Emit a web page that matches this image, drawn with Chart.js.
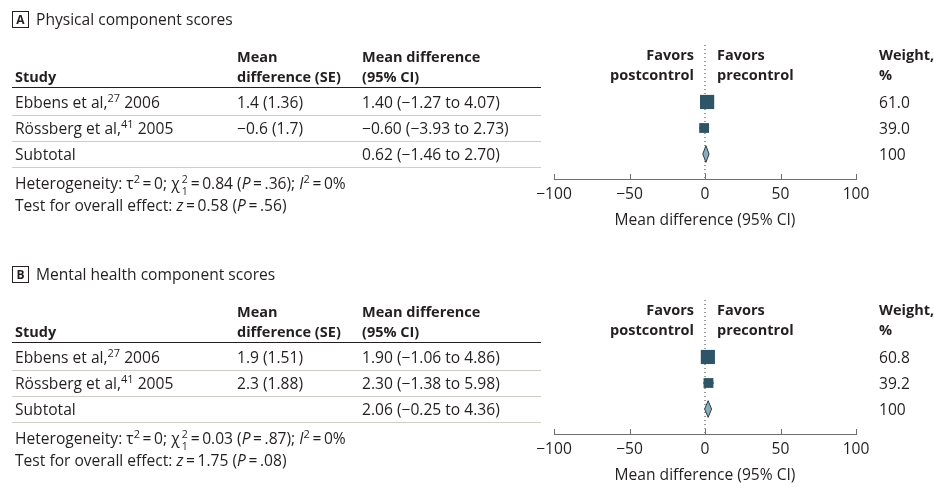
<!DOCTYPE html>
<html>
<head>
<meta charset="utf-8">
<script src="https://cdn.jsdelivr.net/npm/chart.js@4.4.1/dist/chart.umd.min.js"></script>
<style>
body { margin: 0; background: #fff; font-family: "Open Sans", sans-serif; color: #231f20; }
#page { position: relative; width: 934px; height: 499px; overflow: hidden; }
.panel { position: absolute; left: 0; width: 934px; height: 250px; }
.panel canvas { position: absolute; left: 0; top: 0; }
.t { position: absolute; font-size: 15.6px; line-height: 18px; white-space: nowrap; }
.b { font-weight: bold; font-size: 14.5px; }
.box { position: absolute; left: 12px; top: 11px; width: 15px; height: 15px; border: 1px solid #231f20;
       font-size: 12px; font-weight: bold; line-height: 15px; text-align: center; }
.hl { position: absolute; left: 12px; width: 529px; height: 0; }
sup { font-size: 11px; line-height: 0; vertical-align: 6px; }
.ss { display: inline-block; position: relative; width: 8px; height: 10px; font-size: 10.5px; line-height: 10px; margin: 0 2px 0 1px; }
.ss span { position: absolute; left: 1px; }
.ss span:first-child { top: -5px; }
.ss span:last-child { top: 7px; }
</style>
</head>
<body>
<div id="page"></div>
<script>
// studies
const studies = ['Ebbens et al', 'Rössberg et al'];
const refs = ['27', '41'];
const years = ['2006', '2005'];

// A - physical component scores
const physMd = [1.4, -0.6];
const physSe = ['1.36', '1.7'];
const physLo = [-1.27, -3.93];
const physHi = [4.07, 2.73];
const physWeight = [61.0, 39.0];
const physTotal = [0.62, -1.46, 2.70];
const physHet = { tau2: 0, chi2: 0.84, df: 1, p: 0.36, i2: 0, z: 0.58, pz: 0.56 };

// B - mental health component scores
const mentMd = [1.9, 2.3];
const mentSe = ['1.51', '1.88'];
const mentLo = [-1.06, -1.38];
const mentHi = [4.86, 5.98];
const mentWeight = [60.8, 39.2];
const mentTotal = [2.06, -0.25, 4.36];
const mentHet = { tau2: 0, chi2: 0.03, df: 1, p: 0.87, i2: 0, z: 1.75, pz: 0.08 };

const xTicks = [-100, -50, 0, 50, 100];

const page = document.getElementById('page');
const minus = s => String(s).replace('-', '\u2212');
const f2 = v => minus(v.toFixed(2));
const fp = v => v.toFixed(2).replace(/^0/, '');
const sq = (lo, hi) => '(' + f2(lo) + ' to ' + f2(hi) + ')';
const eq = '\u2009=\u2009';

// up-pointing ticks on the x axis
const upTicks = {
    id: 'upTicks',
    afterDraw(chart) {
        const ctx = chart.ctx, sc = chart.scales.x, y = chart.chartArea.bottom;
        ctx.save();
        ctx.strokeStyle = '#6d6e70';
        ctx.lineWidth = 1;
        sc.ticks.forEach(t => {
            const x = Math.round(sc.getPixelForValue(t.value)) + 0.5;
            ctx.beginPath();
            ctx.moveTo(x, y);
            ctx.lineTo(x, y - 5);
            ctx.stroke();
        });
        ctx.restore();
    }
};

function txt(panel, x, y, html, cls, right) {
    const d = document.createElement('div');
    d.className = 't ' + (cls || '');
    d.innerHTML = html;
    if (right) {
        d.style.right = (934 - x) + 'px';
    } else {
        d.style.left = x + 'px';
    }
    d.style.top = (y - 9) + 'px';
    panel.appendChild(d);
}

function line(panel, y, color, w) {
    const d = document.createElement('div');
    d.className = 'hl';
    d.style.top = y + 'px';
    d.style.borderTop = w + 'px solid ' + color;
    panel.appendChild(d);
}

function buildPanel(top, letter, title, md, se, lo, hi, weight, total, het) {
    const panel = document.createElement('div');
    panel.className = 'panel';
    panel.style.top = top + 'px';
    page.appendChild(panel);

    const cv = document.createElement('canvas');
    cv.width = 934; cv.height = 250;
    panel.appendChild(cv);

    const box = document.createElement('div');
    box.className = 'box';
    box.textContent = letter;
    panel.appendChild(box);
    txt(panel, 36, 19, title);

    // header
    txt(panel, 15, 77, 'Study', 'b');
    txt(panel, 237, 57, 'Mean', 'b');
    txt(panel, 237, 77, 'difference (SE)', 'b');
    txt(panel, 362, 57, 'Mean difference', 'b');
    txt(panel, 362, 77, '(95% CI)', 'b');
    txt(panel, 694, 55, 'Favors', 'b', true);
    txt(panel, 694, 75, 'postcontrol', 'b', true);
    txt(panel, 717, 55, 'Favors', 'b');
    txt(panel, 717, 75, 'precontrol', 'b');
    txt(panel, 879, 55, 'Weight,', 'b');
    txt(panel, 879, 75, '%', 'b');
    line(panel, 87, '#231f20', 1.5);

    const rowY = i => 102 + 26 * i;
    studies.forEach((s, i) => {
        txt(panel, 15, rowY(i), s + ',<sup>' + refs[i] + '</sup> ' + years[i]);
        txt(panel, 237, rowY(i), minus(md[i].toFixed(1)) + ' (' + se[i] + ')');
        txt(panel, 362, rowY(i), f2(md[i]) + ' ' + sq(lo[i], hi[i]));
        txt(panel, 879, rowY(i), weight[i].toFixed(1));
        line(panel, rowY(i) + 13, '#cfcfc6', 1);
    });
    const n = studies.length;
    txt(panel, 15, rowY(n), 'Subtotal');
    txt(panel, 362, rowY(n), f2(total[0]) + ' ' + sq(total[1], total[2]));
    txt(panel, 879, rowY(n), String(Math.round(weight.reduce((a, b) => a + b, 0))));
    line(panel, rowY(n) + 13, '#cfcfc6', 1);

    txt(panel, 15, 183, 'Heterogeneity: \u03c4<sup>2</sup>' + eq + het.tau2 +
        '; \u03c7<span class="ss"><span>2</span><span>' + het.df + '</span></span>=\u2009' + het.chi2.toFixed(2) +
        ' (<i>P</i>' + eq + fp(het.p) + '); <i>I</i><sup>2</sup>' + eq + het.i2 + '%');
    txt(panel, 15, 205, 'Test for overall effect: <i>z</i>' + eq + het.z.toFixed(2) +
        ' (<i>P</i>' + eq + fp(het.pz) + ')');

    // plot
    const datasets = [];
    datasets.push({
        type: 'line', order: 5,
        data: [{ x: 0, y: -2.19 }, { x: 0, y: 2.96 }],
        borderColor: '#3a3a3a', borderWidth: 1, borderDash: [1, 3],
        pointRadius: 0, showLine: true
    });
    studies.forEach((s, i) => {
        datasets.push({
            type: 'line', order: 4,
            data: [{ x: lo[i], y: i }, { x: hi[i], y: i }],
            borderColor: '#231f20', borderWidth: 1, pointRadius: 0, showLine: true
        });
    });
    datasets.push({
        type: 'scatter', order: 3,
        data: md.map((v, i) => ({ x: v, y: i })),
        pointStyle: 'rect',
        pointRadius: ctx => (2 + 0.2 * weight[ctx.dataIndex]) / Math.SQRT2,
        backgroundColor: '#2d5565', borderColor: '#2d5565', borderWidth: 0
    });
    datasets.push({
        type: 'line', order: 2,
        data: [
            { x: total[1], y: n }, { x: total[0], y: n - 0.32 },
            { x: total[2], y: n }, { x: total[0], y: n + 0.32 },
            { x: total[1], y: n }
        ],
        fill: 'shape', tension: 0,
        backgroundColor: '#86aebd', borderColor: '#2d3b44', borderWidth: 1,
        pointRadius: 0, showLine: true
    });

    new Chart(cv, {
        type: 'scatter',
        data: { datasets: datasets },
        options: {
            responsive: false,
            animation: false,
            devicePixelRatio: 1,
            layout: { padding: { left: 554, right: 78, top: 45, bottom: 0 } },
            plugins: { legend: { display: false }, tooltip: { enabled: false } },
            scales: {
                x: {
                    type: 'linear', min: -100, max: 100,
                    afterBuildTicks: s => { s.ticks = xTicks.map(v => ({ value: v })); },
                    afterFit: s => { s.height = 71; },
                    grid: { drawOnChartArea: false, drawTicks: false },
                    border: { display: true, color: '#6d6e70', width: 1 },
                    ticks: { padding: 6, color: '#231f20', font: { size: 15.6 }, callback: v => minus(v) },
                    title: { display: true, text: 'Mean difference (95% CI)', color: '#231f20',
                             font: { size: 15.6 }, padding: { top: 2, bottom: 20 } }
                },
                y: { type: 'linear', display: false, reverse: true, min: -2.19, max: 2.96 }
            }
        },
        plugins: [upTicks]
    });
}

Chart.defaults.font.family = '"Open Sans", sans-serif';
buildPanel(0, 'A', 'Physical component scores', physMd, physSe, physLo, physHi, physWeight, physTotal, physHet);
buildPanel(255, 'B', 'Mental health component scores', mentMd, mentSe, mentLo, mentHi, mentWeight, mentTotal, mentHet);
</script>
</body>
</html>
